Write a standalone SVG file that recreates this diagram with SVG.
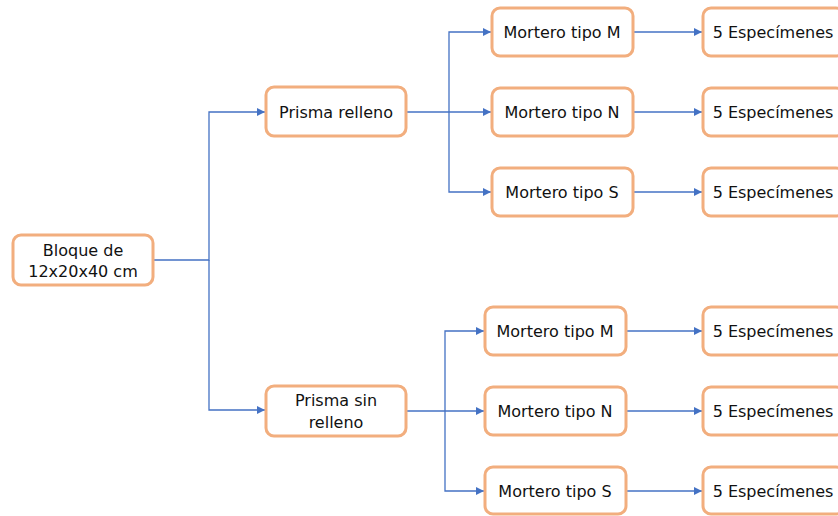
<svg xmlns="http://www.w3.org/2000/svg" width="838" height="516" viewBox="0 0 838 516">
  <style>
    .box { fill: #ffffff; stroke: #F2AE7E; stroke-width: 3; }
    .lbl { font-family: "DejaVu Sans", Verdana, sans-serif; font-size: 16px; fill: #111111; text-anchor: middle; }
    .wire { fill: none; stroke: #4472C4; stroke-width: 1.3; }
  </style>
  <defs>
    <marker id="arrow" viewBox="0 0 10 10" refX="10" refY="5" markerWidth="8" markerHeight="8" markerUnits="userSpaceOnUse" orient="auto">
      <path d="M0,0 L10,5 L0,10 Z" fill="#4472C4"/>
    </marker>
  </defs>
  <rect width="838" height="516" fill="#ffffff"/>

  <g id="connectors">
    <!-- block to prisms -->
    <path class="wire" d="M153,260 H209 V112 H265" marker-end="url(#arrow)"/>
    <path class="wire" d="M209,260 V410 H265" marker-end="url(#arrow)"/>
    <!-- filled prism to mortars -->
    <path class="wire" d="M406,112 H491" marker-end="url(#arrow)"/>
    <path class="wire" d="M449,112 V32 H491" marker-end="url(#arrow)"/>
    <path class="wire" d="M449,112 V192 H491" marker-end="url(#arrow)"/>
    <!-- unfilled prism to mortars -->
    <path class="wire" d="M406,411 H484" marker-end="url(#arrow)"/>
    <path class="wire" d="M445,411 V331 H484" marker-end="url(#arrow)"/>
    <path class="wire" d="M445,411 V491 H484" marker-end="url(#arrow)"/>
    <!-- mortars to specimens -->
    <path class="wire" d="M633,32 H702" marker-end="url(#arrow)"/>
    <path class="wire" d="M633,112 H702" marker-end="url(#arrow)"/>
    <path class="wire" d="M633,192 H702" marker-end="url(#arrow)"/>
    <path class="wire" d="M626,331 H702" marker-end="url(#arrow)"/>
    <path class="wire" d="M626,411 H702" marker-end="url(#arrow)"/>
    <path class="wire" d="M626,491 H702" marker-end="url(#arrow)"/>
  </g>

  <g id="bloque">
    <rect class="box" x="13" y="235" width="140" height="50" rx="8"/>
    <text class="lbl" x="83" y="256">Bloque de</text>
    <text class="lbl" x="83" y="277">12x20x40 cm</text>
  </g>

  <g id="prisma-relleno">
    <rect class="box" x="266" y="87" width="140" height="49" rx="8"/>
    <text class="lbl" x="336" y="118">Prisma relleno</text>
  </g>
  <g id="prisma-sin-relleno">
    <rect class="box" x="266" y="386" width="140" height="50" rx="8"/>
    <text class="lbl" x="336" y="406">Prisma sin</text>
    <text class="lbl" x="336" y="428">relleno</text>
  </g>

  <g id="mortero-m-1">
    <rect class="box" x="492" y="8" width="141" height="48" rx="8"/>
    <text class="lbl" x="562" y="38">Mortero tipo M</text>
  </g>
  <g id="mortero-n-1">
    <rect class="box" x="492" y="88" width="141" height="48" rx="8"/>
    <text class="lbl" x="562" y="118">Mortero tipo N</text>
  </g>
  <g id="mortero-s-1">
    <rect class="box" x="492" y="168" width="141" height="48" rx="8"/>
    <text class="lbl" x="562" y="198">Mortero tipo S</text>
  </g>

  <g id="mortero-m-2">
    <rect class="box" x="485" y="307" width="141" height="48" rx="8"/>
    <text class="lbl" x="555" y="337">Mortero tipo M</text>
  </g>
  <g id="mortero-n-2">
    <rect class="box" x="485" y="387" width="141" height="48" rx="8"/>
    <text class="lbl" x="555" y="417">Mortero tipo N</text>
  </g>
  <g id="mortero-s-2">
    <rect class="box" x="485" y="467" width="141" height="47" rx="8"/>
    <text class="lbl" x="555" y="497">Mortero tipo S</text>
  </g>

  <g id="especimenes-1">
    <rect class="box" x="703" y="8" width="141" height="48" rx="8"/>
    <text class="lbl" x="773" y="38">5 Especímenes</text>
  </g>
  <g id="especimenes-2">
    <rect class="box" x="703" y="88" width="141" height="48" rx="8"/>
    <text class="lbl" x="773" y="118">5 Especímenes</text>
  </g>
  <g id="especimenes-3">
    <rect class="box" x="703" y="168" width="141" height="48" rx="8"/>
    <text class="lbl" x="773" y="198">5 Especímenes</text>
  </g>
  <g id="especimenes-4">
    <rect class="box" x="703" y="307" width="141" height="48" rx="8"/>
    <text class="lbl" x="773" y="337">5 Especímenes</text>
  </g>
  <g id="especimenes-5">
    <rect class="box" x="703" y="387" width="141" height="48" rx="8"/>
    <text class="lbl" x="773" y="417">5 Especímenes</text>
  </g>
  <g id="especimenes-6">
    <rect class="box" x="703" y="467" width="141" height="47" rx="8"/>
    <text class="lbl" x="773" y="497">5 Especímenes</text>
  </g>
</svg>
